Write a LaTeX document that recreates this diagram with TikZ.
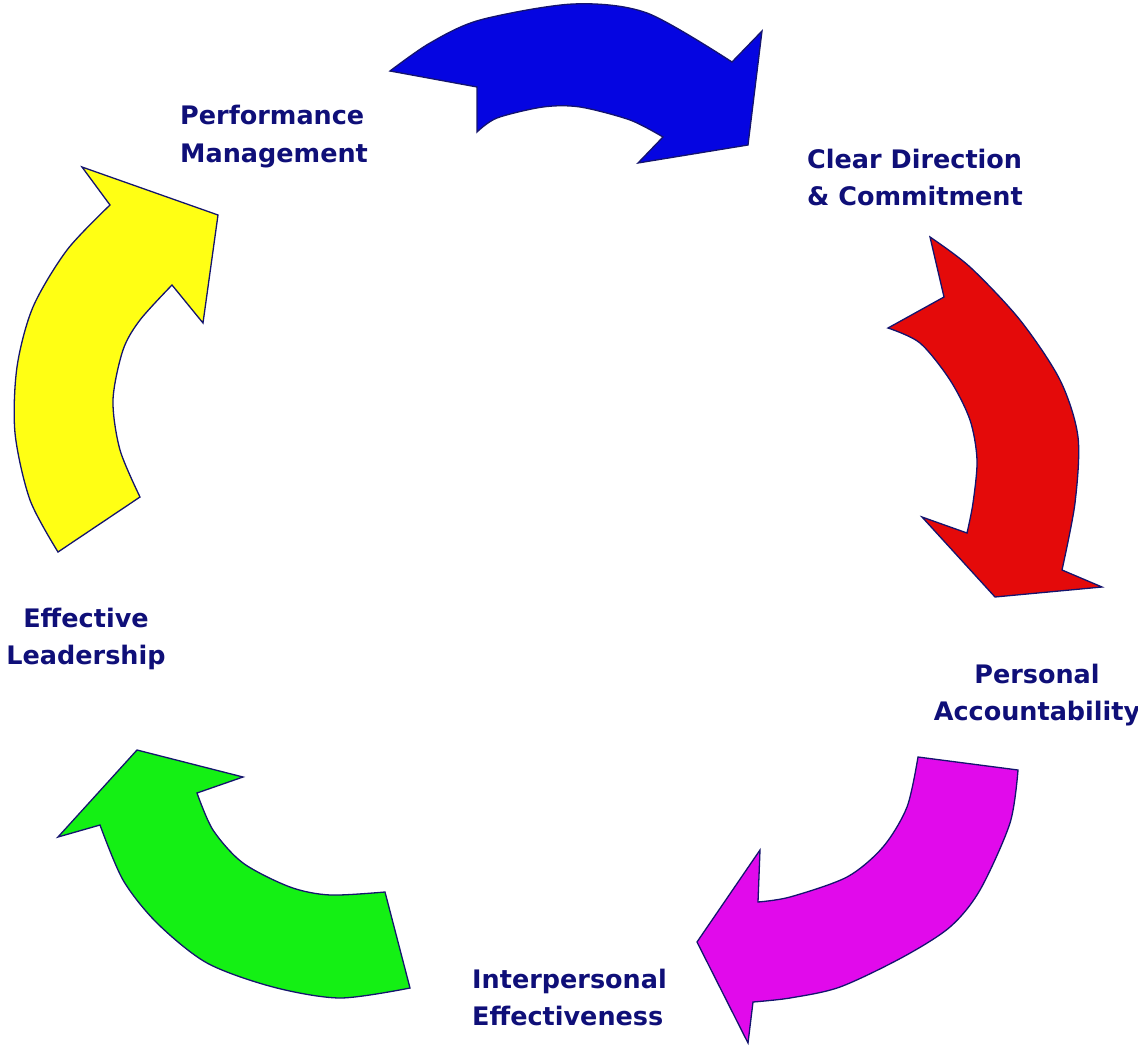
\documentclass[tikz,border=0pt]{standalone}
\usepackage{fontspec}
\setsansfont{DejaVu Sans}
\usepackage{tikz}
\usetikzlibrary{positioning}
\definecolor{navyedge}{RGB}{20,20,110}
\definecolor{navytext}{RGB}{15,15,120}
\definecolor{arrblue}{RGB}{5,5,225}
\definecolor{arrred}{RGB}{228,10,10}
\definecolor{arrmagenta}{RGB}{225,10,235}
\definecolor{arrgreen}{RGB}{20,240,20}
\definecolor{arryellow}{RGB}{255,255,20}
\tikzset{
  bend arrow/.style={draw=navyedge, line width=1.3pt, line join=miter},
  lbl/.style={inner sep=0pt, text=navytext, font=\sffamily\bfseries\fontsize{25.5}{37}\selectfont}
}
\begin{document}
\begin{tikzpicture}[x=1pt, y=-1pt]
  \useasboundingbox (0,0) rectangle (1138,1046);
  % curved arrows, clockwise
  \filldraw[bend arrow, fill=arrblue] plot[smooth] coordinates {(390,71) (430,43) (480,20) (573,4) (647,13) (732,62)}
    -- (762,31) -- (748,145) -- (638,163)
    -- plot[smooth] coordinates {(663,137) (630,120) (580,107) (543,107) (497,118) (477,132)}
    -- (477,87) -- cycle;
  \filldraw[bend arrow, fill=arrred] plot[smooth] coordinates {(930,237) (970,267) (1020,320) (1060,380) (1078,437) (1075,503) (1062,570)}
    -- (1102,587) -- (995,597) -- (922,517)
    -- plot[smooth] coordinates {(967,533) (973,503) (977,460) (970,420) (950,380) (920,343) (888,328)}
    -- (944,297) -- cycle;
  \filldraw[bend arrow, fill=arrmagenta] plot[smooth] coordinates {(1018,770) (1010,823) (980,890) (950,927) (903,957) (840,987) (790,998) (753,1002)}
    -- (748,1043) -- (697,942) -- (760,850)
    -- plot[smooth] coordinates {(758,902) (790,897) (847,877) (883,847) (907,807) (918,757)}
    -- cycle;
  \filldraw[bend arrow, fill=arrgreen] plot[smooth] coordinates {(385,892) (330,895) (290,887) (243,863) (213,830) (197,793)}
    -- (243,777) -- (137,750) -- (58,837)
    -- plot[smooth] coordinates {(100,825) (123,880) (157,923) (207,963) (273,987) (340,998) (410,988)}
    -- cycle;
  \filldraw[bend arrow, fill=arryellow] plot[smooth] coordinates {(58,552) (30,500) (15,433) (17,367) (33,307) (67,250) (110,205)}
    -- (82,167) -- (218,215) -- (203,323)
    -- plot[smooth] coordinates {(172,285) (140,320) (123,350) (113,400) (120,450) (140,497)}
    -- cycle;
  % labels
  \node[lbl, align=left, anchor=base west] (perf) at (180,162) {Performance\\Management};
  \node[lbl, align=left, anchor=base west] (clear) at (807,205) {Clear Direction\\\& Commitment};
  \node[lbl, align=center, anchor=base] (personal) at (1037,720) {Personal\\Accountability};
  \node[lbl, align=left, anchor=base west] (inter) at (472,1025) {Interpersonal\\Effectiveness};
  \node[lbl, align=center, anchor=base] (lead) at (86,664) {Effective\\Leadership};
\end{tikzpicture}
\end{document}
